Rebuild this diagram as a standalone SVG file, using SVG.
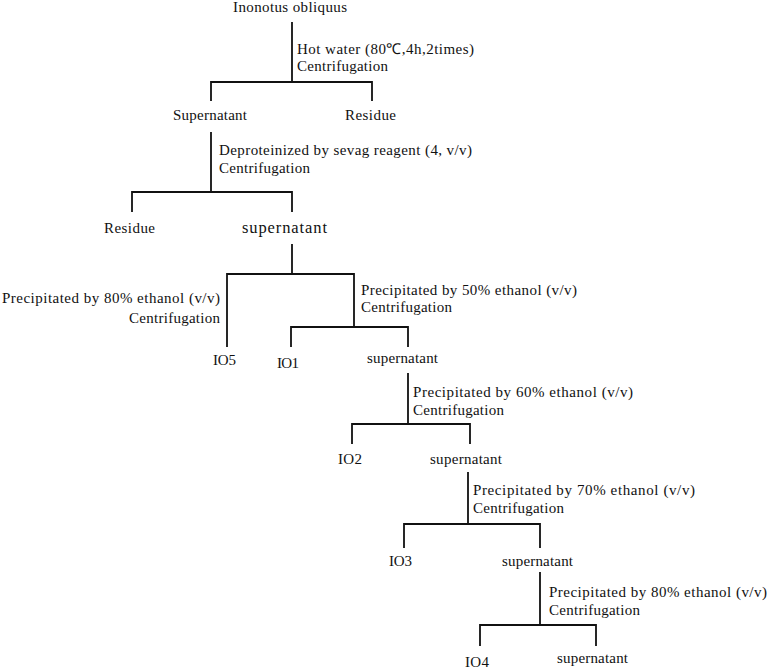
<svg xmlns="http://www.w3.org/2000/svg" width="768" height="671" viewBox="0 0 768 671">
<style>
text{font-family:"Liberation Serif","Times New Roman",serif;font-size:15px;fill:#111}
.c{fill:none;stroke:#111;stroke-width:1.8;stroke-linecap:square}
</style>
<rect width="768" height="671" fill="#fff"/>
<g id="connectors" class="c">
<path d="M292,23V82M211,100V82H372V100"/>
<path d="M211,133V192M132,211V192H292V211"/>
<path d="M292,245V274M227,346V274H354V327M291,346V327H408V346"/>
<path d="M408,374V424M352,443V424H470V443"/>
<path d="M468,473V524M404,547V524H540V547"/>
<path d="M540,573V625M480,645V625H596V645"/>
</g>
<g id="n-inonotus"><text x="233" y="12" textLength="114" lengthAdjust="spacing">Inonotus obliquus</text></g>
<g id="s1-label"><text x="297" y="54" textLength="177" lengthAdjust="spacing">Hot water (80℃,4h,2times)</text><text x="297" y="71" textLength="91" lengthAdjust="spacing">Centrifugation</text></g>
<g id="n-supernatant1"><text x="173" y="120" textLength="74" lengthAdjust="spacing">Supernatant</text></g>
<g id="n-residue1"><text x="345" y="120" textLength="51" lengthAdjust="spacing">Residue</text></g>
<g id="s2-label"><text x="219" y="155" textLength="253" lengthAdjust="spacing">Deproteinized by sevag reagent (4, v/v)</text><text x="219" y="173" textLength="91" lengthAdjust="spacing">Centrifugation</text></g>
<g id="n-residue2"><text x="104" y="233" textLength="51" lengthAdjust="spacing">Residue</text></g>
<g id="n-supernatant2"><text x="242" y="233" style="font-size:16.5px" textLength="85" lengthAdjust="spacing">supernatant</text></g>
<g id="s3a-label"><text x="2" y="303" textLength="218" lengthAdjust="spacing">Precipitated by 80% ethanol (v/v)</text><text x="129" y="323" textLength="91" lengthAdjust="spacing">Centrifugation</text></g>
<g id="s3b-label"><text x="361" y="295" textLength="216" lengthAdjust="spacing">Precipitated by 50% ethanol (v/v)</text><text x="361" y="312" textLength="91" lengthAdjust="spacing">Centrifugation</text></g>
<g id="n-io5"><text x="213" y="365" textLength="23" lengthAdjust="spacing">IO5</text></g>
<g id="n-io1"><text x="277" y="368" textLength="22" lengthAdjust="spacing">IO1</text></g>
<g id="n-supernatant3"><text x="367" y="363" textLength="71" lengthAdjust="spacing">supernatant</text></g>
<g id="s4-label"><text x="413" y="397" textLength="220" lengthAdjust="spacing">Precipitated by 60% ethanol (v/v)</text><text x="413" y="415" textLength="91" lengthAdjust="spacing">Centrifugation</text></g>
<g id="n-io2"><text x="338" y="464" textLength="24" lengthAdjust="spacing">IO2</text></g>
<g id="n-supernatant4"><text x="430" y="464" textLength="72" lengthAdjust="spacing">supernatant</text></g>
<g id="s5-label"><text x="473" y="495" textLength="222" lengthAdjust="spacing">Precipitated by 70% ethanol (v/v)</text><text x="473" y="513" textLength="91" lengthAdjust="spacing">Centrifugation</text></g>
<g id="n-io3"><text x="389" y="566" textLength="23" lengthAdjust="spacing">IO3</text></g>
<g id="n-supernatant5"><text x="502" y="566" textLength="71" lengthAdjust="spacing">supernatant</text></g>
<g id="s6-label"><text x="549" y="597" textLength="218" lengthAdjust="spacing">Precipitated by 80% ethanol (v/v)</text><text x="549" y="615" textLength="91" lengthAdjust="spacing">Centrifugation</text></g>
<g id="n-io4"><text x="465" y="667" textLength="24" lengthAdjust="spacing">IO4</text></g>
<g id="n-supernatant6"><text x="557" y="663" textLength="71" lengthAdjust="spacing">supernatant</text></g>
</svg>
